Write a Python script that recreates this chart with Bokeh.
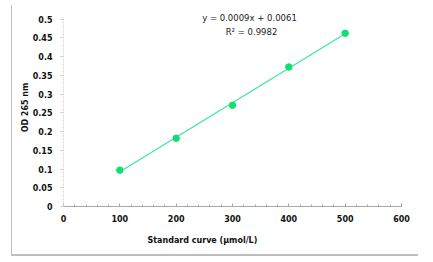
from bokeh.plotting import figure
from bokeh.models import Range1d, Label, SingleIntervalTicker, Title
from bokeh.embed import file_html
from bokeh.resources import INLINE
import numpy as np

concentration = [100, 200, 300, 400, 500]
od265 = [0.097, 0.182, 0.270, 0.372, 0.462]
equation_text = "y = 0.0009x + 0.0061"
r2_text = "R² = 0.9982"
x_title = "Standard curve (μmol/L)"
y_title = "OD 265 nm"

FONT = "DejaVu Sans"

p = figure(width=407, height=251, output_backend="svg", toolbar_location=None,
           x_range=Range1d(0, 600), y_range=Range1d(0, 0.528),
           min_border_left=51, min_border_right=18, min_border_top=3, min_border_bottom=50,
           margin=(5, 0, 0, 11))
p.styles = {"border-left": "1px solid #c0c0c0", "border-bottom": "2px solid #bdbdbd"}
p.outline_line_color = None
p.grid.visible = False
p.background_fill_color = "white"
p.border_fill_color = "white"

# trendline from linear fit
slope, intercept = np.polyfit(concentration, od265, 1)
xs = np.array([concentration[0], concentration[-1]])
p.line(xs, slope * xs + intercept, line_color="#3ae6a0", line_width=1.2)
p.scatter(concentration, od265, size=6.5, marker="circle", fill_color="#10e070", line_color="#10e070")

# axes
xa = p.xaxis[0]
xa.ticker = SingleIntervalTicker(interval=100, num_minor_ticks=5)
xa.axis_line_color = "#a8a8a8"
xa.major_tick_line_color = "#a8a8a8"
xa.minor_tick_line_color = "#a8a8a8"
xa.major_tick_in = 3
xa.major_tick_out = 0
xa.minor_tick_in = 2
xa.minor_tick_out = 0
xa.major_label_text_font = FONT
xa.major_label_text_font_style = "bold"
xa.major_label_text_font_size = "8px"
xa.major_label_text_color = "#111111"
xa.major_label_standoff = 8

ya = p.yaxis[0]
ya.ticker = SingleIntervalTicker(interval=0.05, num_minor_ticks=5)
ya.bounds = (0, 0.5)
ya.axis_line_color = "#d4d4d4"
ya.axis_line_dash = "1 1"
ya.major_tick_line_color = "#c8c8c8"
ya.minor_tick_line_color = "#dddddd"
ya.major_tick_in = 0
ya.major_tick_out = 3
ya.minor_tick_in = 0
ya.minor_tick_out = 1
ya.major_label_text_font = FONT
ya.major_label_text_font_style = "bold"
ya.major_label_text_font_size = "8px"
ya.major_label_text_color = "#111111"
ya.major_label_standoff = 8
ya.axis_label = y_title
ya.axis_label_text_font = FONT
ya.axis_label_text_font_style = "bold"
ya.axis_label_text_font_size = "8px"
ya.axis_label_text_color = "#111111"
ya.axis_label_standoff = 0

p.add_layout(Title(text=x_title, align="left", offset=84, text_font=FONT,
                   text_font_style="bold", text_font_size="8px", text_color="#111111",
                   standoff=19), "below")

p.add_layout(Label(x=186, y=189, x_units="screen", y_units="screen", text=equation_text,
                   text_font=FONT, text_font_size="8.5px",
                   text_align="center", text_baseline="middle", text_color="#222222"))
p.add_layout(Label(x=188, y=175, x_units="screen", y_units="screen", text=r2_text,
                   text_font=FONT, text_font_size="8.5px",
                   text_align="center", text_baseline="middle", text_color="#222222"))

open("out.html", "w").write(file_html(p, INLINE))
